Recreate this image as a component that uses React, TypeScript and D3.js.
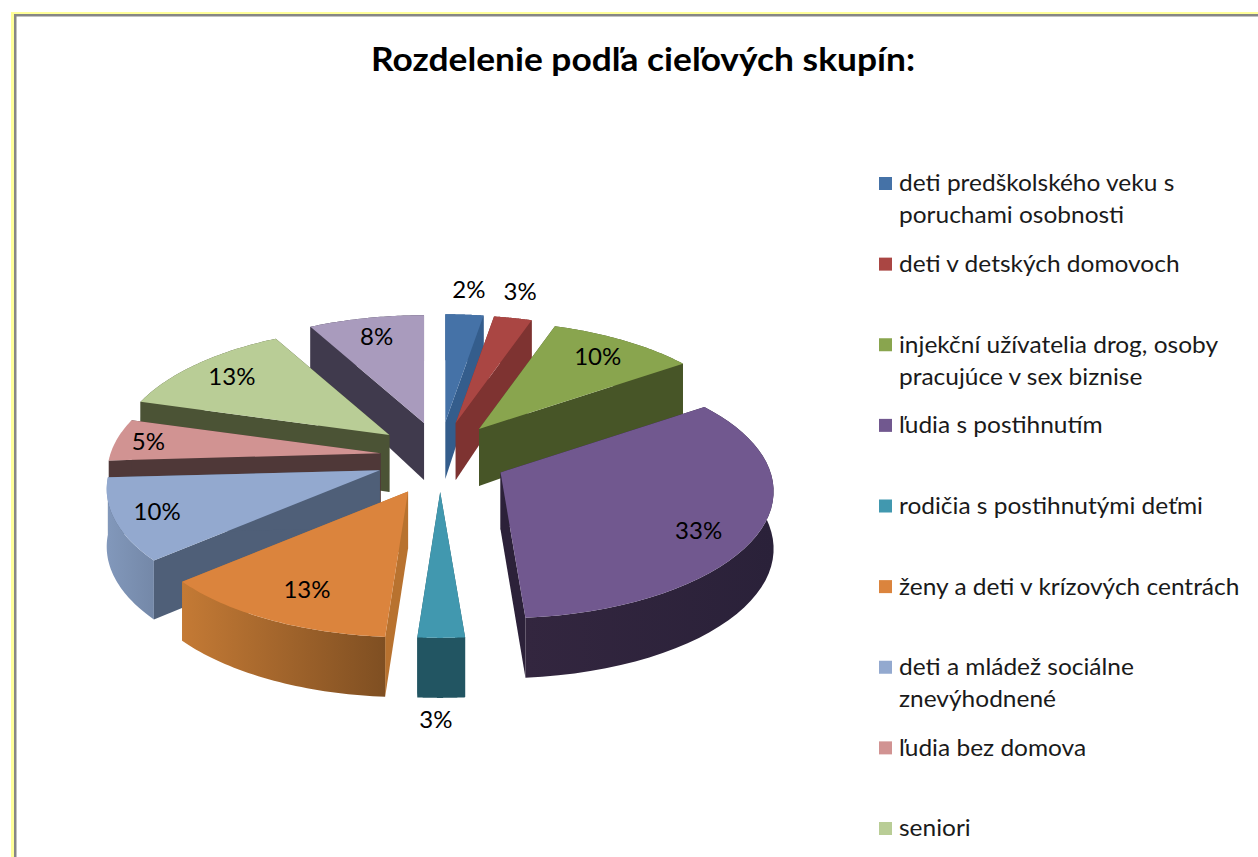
import React from "react";
import * as d3 from "d3";

const titleText = "Rozdelenie podľa cieľových skupín:";
const shares = [2.6, 2.6, 10.1, 33.45, 2.4, 12.45, 10.5, 5.4, 12.6, 7.9];
const percentLabels = ["2%", "3%", "10%", "33%", "3%", "13%", "10%", "5%", "13%", "8%"];
const labelRadius = [1.23, 1.25, 0.82, 0.8, 1.15, 0.76, 0.84, 0.88, 0.82, 0.82];
const labelFraction = [0.5, 0.35, 0.5, 0.56, 0.6, 0.47, 0.5, 0.5, 0.5, 0.5];
const labelBelow = [false, false, false, false, true, false, false, false, false, false];
const explode = [1, 1, 1, 1.03, 1, 1.1, 1, 0.92, 1, 1];
const showRim = [true, true, true, true, true, true, true, false, true, true];
const topColors = ["#4572a7", "#aa4643", "#89a54e", "#71588f", "#4198af", "#db843d", "#93a9cf", "#d19392", "#b9cd96", "#a99bbd"];
const sideColors = ["#345d8c", "#7e3331", "#475527", "#2c2139", "#225562", "#b8722f", "#4f5f78", "#4f3838", "#4b5335", "#403a4d"];
const rimLeftColors = ["#345d8c", "#7e3331", "#475527", "#33263f", "#225562", "#c47a35", "#8298bb", "#4f3838", "#4b5335", "#403a4d"];
const rimRightColors = ["#345d8c", "#7e3331", "#475527", "#2a2139", "#225562", "#7f4f22", "#7488a8", "#4f3838", "#4b5335", "#403a4d"];
const drawOrder = [0, 1, 2, 9, 8, 7, 6, 3, 5, 4];
const legendItems = [
  ["deti predškolského veku s", "poruchami osobnosti"],
  ["deti v detských domovoch"],
  ["injekční užívatelia drog, osoby", "pracujúce v sex biznise"],
  ["ľudia s postihnutím"],
  ["rodičia s postihnutými deťmi"],
  ["ženy a deti v krízových centrách"],
  ["deti a mládež sociálne", "znevýhodnené"],
  ["ľudia bez domova"],
  ["seniori"],
];

const W = 1258, H = 857;
const CX = 440, CY = 457, EX = 65, EY = 35;
const RX = 270, RY = 124, PERSP = 0.15;
const FONT = "Lato, 'Open Sans', sans-serif";

const offset = (a: number, k = 1): [number, number] => {
  const w = -Math.cos(a);
  const s = 1 / (1 - PERSP * w);
  return [RX * k * Math.sin(a) * s, RY * k * w * s];
};
const depthAt = (a: number) => {
  const w = -Math.cos(a);
  return w < 0 ? 57 + 11 * w : 57 + 3 * w;
};

const arcs = d3.pie<number>().sort(null).startAngle(0).endAngle(2 * Math.PI)(shares);
const line = d3.line();
const legendY = d3.scaleLinear().domain([0, 8]).range([183, 828]);

export default function App() {
  const slices = arcs.map((d, i) => {
    const mid = (d.startAngle + d.endAngle) / 2;
    const ax = CX + EX * explode[i] * Math.sin(mid);
    const ay = CY - EY * explode[i] * Math.cos(mid);
    const angles = d3.range(0, 41).map((t) => d.startAngle + ((d.endAngle - d.startAngle) * t) / 40);
    const rim: [number, number][] = angles.map((a) => {
      const [ox, oy] = offset(a);
      return [ax + ox, ay + oy];
    });
    const rimLow: [number, number][] = angles.map((a, t) => [rim[t][0], rim[t][1] + depthAt(a)]);
    const apexLow: [number, number] = [ax, ay + 57];
    const topPath = line([[ax, ay], ...rim])! + "Z";
    const rimPath = line([...rim, ...rimLow.slice().reverse()])! + "Z";
    const face = (t: number) => line([[ax, ay], rim[t], rimLow[t], apexLow])! + "Z";
    const xs = rim.map((p) => p[0]);
    const la = d.startAngle + (d.endAngle - d.startAngle) * labelFraction[i];
    const [lx, ly] = offset(la, labelRadius[i]);
    const extra = labelBelow[i] ? depthAt(la) : 0;
    return {
      i, topPath, rimPath,
      faceStart: face(0), faceEnd: face(40),
      x0: d3.min(xs)!, x1: d3.max(xs)!,
      labelX: ax + lx, labelY: ay + ly + extra,
    };
  });

  return (
    <svg width={W} height={H} style={{ position: "fixed", left: 0, top: 0, background: "#fff" }} fontFamily={FONT}>
      <rect x={11} y={12} width={W - 11} height={3} fill="#ffff99" />
      <rect x={11} y={12} width={3} height={H - 12} fill="#ffff99" />
      <rect x={14} y={14} width={W - 14} height={2.5} fill="#868686" />
      <rect x={14} y={14} width={2.5} height={H - 14} fill="#868686" />
      <text x={643} y={71} textAnchor="middle" fontSize={32} fontWeight={700} fill="#000" textLength={544} lengthAdjust="spacingAndGlyphs">{titleText}</text>
      <defs>
        {slices.map((s) => (
          <linearGradient key={s.i} id={`rim${s.i}`} gradientUnits="userSpaceOnUse" x1={s.x0} x2={s.x1} y1={0} y2={0}>
            <stop offset="0" stopColor={rimLeftColors[s.i]} />
            <stop offset="1" stopColor={rimRightColors[s.i]} />
          </linearGradient>
        ))}
      </defs>
      {drawOrder.map((i) => {
        const s = slices[i];
        return (
          <g key={i}>
            <path d={s.faceStart} fill={sideColors[i]} />
            <path d={s.faceEnd} fill={sideColors[i]} />
            {showRim[i] && <path d={s.rimPath} fill={`url(#rim${i})`} />}
            <path d={s.topPath} fill={topColors[i]} />
          </g>
        );
      })}
      {slices.map((s) => (
        <text key={s.i} x={s.labelX} y={s.labelY} dy="0.35em" textAnchor="middle" fontSize={24} fill="#000">
          {percentLabels[s.i]}
        </text>
      ))}
      {legendItems.map((lines, i) => (
        <g key={i}>
          <rect x={879} y={legendY(i) - 6} width={13} height={13} fill={topColors[i]} />
          {lines.map((t, j) => (
            <text key={j} transform={`translate(899,${legendY(i) + j * 32}) scale(1.02,1)`} dy="0.35em" fontSize={24} fill="#1a1a1a">{t}</text>
          ))}
        </g>
      ))}
    </svg>
  );
}
